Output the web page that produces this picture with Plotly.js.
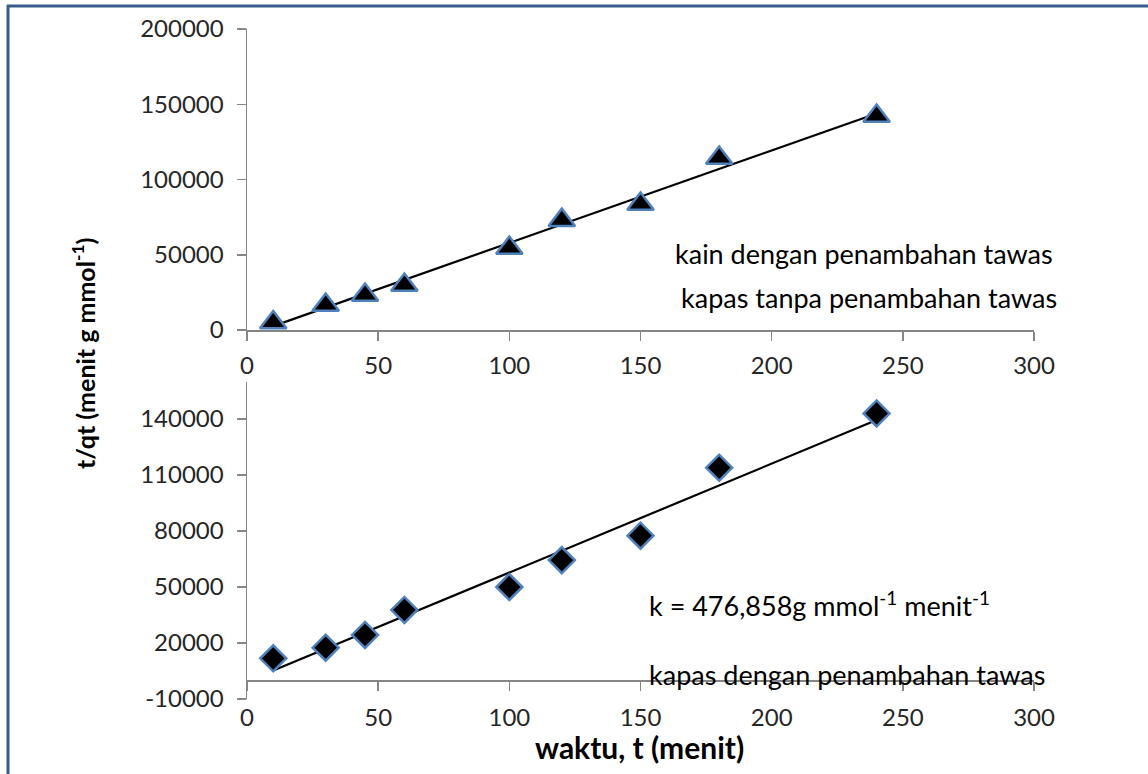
<!DOCTYPE html>
<html><head><meta charset="utf-8">
<script src="https://cdn.plot.ly/plotly-3.0.1.min.js"></script>
<style>html,body{margin:0;padding:0;background:#fff}#chart{width:1148px;height:774px}</style>
</head><body><div id="chart"></div>
<script>
// ---- data ----
const waktu = [10, 30, 45, 60, 100, 120, 150, 180, 240];
const kainTawas = [5000, 16600, 23300, 29900, 54500, 73000, 83700, 114300, 142200];
const kapasTawas = [11800, 17500, 24300, 37700, 50000, 64400, 77500, 113900, 143000];
const xTicks = [0, 50, 100, 150, 200, 250, 300];
const yTicksTop = [0, 50000, 100000, 150000, 200000];
const yTicksBottom = [-10000, 20000, 50000, 80000, 110000, 140000];
const labelKain = 'kain dengan penambahan tawas';
const labelKapasTanpa = 'kapas tanpa penambahan tawas';
const labelK = 'k = 476,858g mmol<sup>-1</sup> menit<sup>-1</sup>';
const labelKapasDengan = 'kapas dengan penambahan tawas';
const xTitle = 'waktu, t (menit)';
const yTitle = 't/qt (menit g mmol<sup>-1</sup>)';

// ---- helpers ----
const W = 1148, H = 774;
const px = x => x / W;
const py = y => 1 - y / H;
function fit(x, y) {
  const n = x.length;
  const mx = x.reduce((a, b) => a + b, 0) / n;
  const my = y.reduce((a, b) => a + b, 0) / n;
  let sxy = 0, sxx = 0;
  for (let i = 0; i < n; i++) { sxy += (x[i] - mx) * (y[i] - my); sxx += (x[i] - mx) ** 2; }
  const m = sxy / sxx;
  return [m, my - m * mx];
}
function trend(x, y, xa, ya) {
  const [m, b] = fit(x, y);
  const xs = [Math.min(...x), Math.max(...x)];
  return { x: xs, y: xs.map(v => m * v + b), xaxis: xa, yaxis: ya, mode: 'lines',
           line: { color: '#000', width: 2.2 }, hoverinfo: 'skip', showlegend: false };
}

const FONT = 'Lato, "Open Sans", sans-serif';
const TXT = '#262626';
const AX = '#868686';
const markerLine = { color: '#4F81BD', width: 2.5 };

const traces = [
  trend(waktu, kainTawas, 'x', 'y'),
  { x: waktu, y: kainTawas, xaxis: 'x', yaxis: 'y', mode: 'markers', showlegend: false,
    marker: { symbol: 'triangle-up', size: 23, color: '#000', line: markerLine } },
  trend(waktu, kapasTawas, 'x2', 'y2'),
  { x: waktu, y: kapasTawas, xaxis: 'x2', yaxis: 'y2', mode: 'markers', showlegend: false,
    marker: { symbol: 'diamond', size: 20, color: '#000', line: markerLine } }
];

const xDom = [px(247), px(1034)];
const yDomTop = [py(330), py(29)];
const yRangeBottom = [-10000, 160000];
const yDomBottom = [py(699), py(699 - (yRangeBottom[1] - yRangeBottom[0]) * 280 / 150000)];
const zeroPos = yDomBottom[0] + (0 - yRangeBottom[0]) / (yRangeBottom[1] - yRangeBottom[0]) * (yDomBottom[1] - yDomBottom[0]);

const axBase = {
  showline: true, linecolor: AX, linewidth: 1.5, ticks: 'outside', ticklen: 9,
  tickcolor: AX, tickwidth: 1.5, showgrid: false, zeroline: false, fixedrange: true,
  tickfont: { family: FONT, size: 24, color: TXT }, automargin: false
};

const layout = {
  width: W, height: H, margin: { l: 0, r: 0, t: 0, b: 0 },
  paper_bgcolor: '#fff', plot_bgcolor: 'rgba(0,0,0,0)', showlegend: false,
  font: { family: FONT, color: TXT },
  xaxis: Object.assign({}, axBase, { domain: xDom, range: [0, 300], anchor: 'y',
    tickmode: 'array', tickvals: xTicks, ticktext: xTicks.map(String), ticklabelstandoff: 5 }),
  yaxis: Object.assign({}, axBase, { domain: yDomTop, range: [0, 200000], anchor: 'x',
    tickmode: 'array', tickvals: yTicksTop, ticktext: yTicksTop.map(String), ticklabelstandoff: 8 }),
  xaxis2: Object.assign({}, axBase, { domain: xDom, range: [0, 300], anchor: 'free', position: zeroPos,
    tickmode: 'array', tickvals: xTicks, ticktext: xTicks.map(String), ticklabelstandoff: 6 }),
  yaxis2: Object.assign({}, axBase, { domain: yDomBottom, range: yRangeBottom, anchor: 'x2',
    tickmode: 'array', tickvals: yTicksBottom, ticktext: yTicksBottom.map(String), ticklabelstandoff: 8 }),
  annotations: [
    { text: labelKain, xref: 'paper', yref: 'paper', x: px(673), y: py(253), xanchor: 'left', yanchor: 'middle',
      showarrow: false, font: { family: FONT, size: 27, color: '#000' } },
    { text: labelKapasTanpa, xref: 'paper', yref: 'paper', x: px(679), y: py(298), xanchor: 'left', yanchor: 'middle',
      showarrow: false, font: { family: FONT, size: 27, color: '#000' } },
    { text: labelK, xref: 'paper', yref: 'paper', x: px(647), y: py(604), xanchor: 'left', yanchor: 'middle',
      showarrow: false, font: { family: FONT, size: 27, color: '#000' } },
    { text: labelKapasDengan, xref: 'paper', yref: 'paper', x: px(647), y: py(674), xanchor: 'left', yanchor: 'middle',
      showarrow: false, font: { family: FONT, size: 27, color: '#000' } },
    { text: '<b>' + xTitle + '</b>', xref: 'paper', yref: 'paper', x: px(639), y: py(747), xanchor: 'center', yanchor: 'middle',
      showarrow: false, font: { family: FONT, size: 30, color: '#000' } },
    { text: '<b>' + yTitle + '</b>', xref: 'paper', yref: 'paper', x: px(83), y: py(353), xanchor: 'center', yanchor: 'middle',
      textangle: -90, showarrow: false, font: { family: FONT, size: 25, color: '#000' } }
  ],
  shapes: [
    { type: 'line', xref: 'paper', yref: 'paper', x0: px(7), x1: 1, y0: py(6), y1: py(6), line: { color: '#385D8A', width: 3 } },
    { type: 'line', xref: 'paper', yref: 'paper', x0: px(8), x1: px(8), y0: py(5), y1: 0, line: { color: '#385D8A', width: 3 } }
  ]
};

Plotly.newPlot('chart', traces, layout, { displayModeBar: false, staticPlot: true });
</script>
</body></html>
